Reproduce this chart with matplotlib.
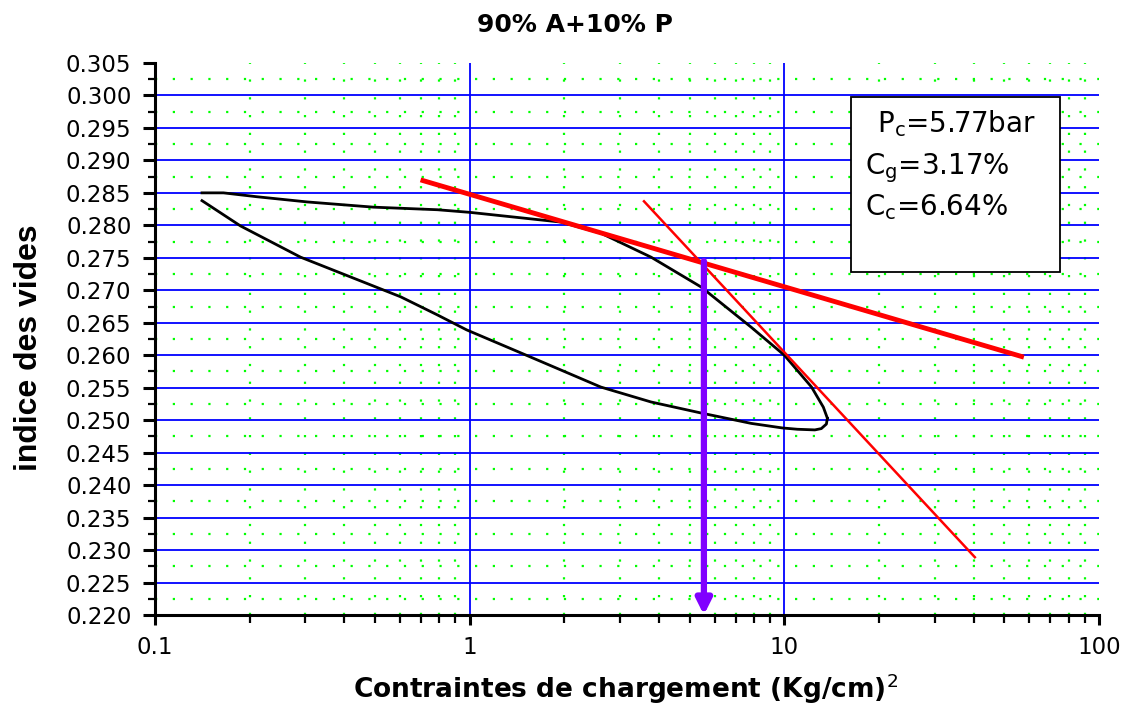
import numpy as np
import matplotlib
matplotlib.use("Agg")
import matplotlib.pyplot as plt
from matplotlib import font_manager
from matplotlib.patches import Rectangle
from matplotlib.ticker import FixedLocator, LogLocator, NullFormatter

# oedometer loop
x_load = [0.141, 0.165, 0.211, 0.305, 0.494, 0.79, 1.0, 1.95, 2.61, 3.77,
          5.44, 7.85, 10.0, 12.2, 13.3, 13.7]
e_load = [0.2850, 0.2850, 0.2844, 0.2836, 0.2828, 0.2824, 0.2820, 0.2805,
          0.2788, 0.2751, 0.2705, 0.2643, 0.2600, 0.2551, 0.2520, 0.2503]
x_unload = [13.7, 13.6, 13.1, 12.5, 11.0, 9.86, 7.85, 5.44, 3.77, 2.61, 1.53,
            0.978, 0.79, 0.603, 0.29, 0.187, 0.141]
e_unload = [0.2503, 0.2494, 0.2487, 0.2485, 0.2486, 0.2488, 0.2495, 0.2511,
            0.2528, 0.2551, 0.2599, 0.2639, 0.2662, 0.2690, 0.2751, 0.2799,
            0.2838]

# tangent lines
x_tan1 = [0.698, 57.7]
e_tan1 = [0.2870, 0.2597]
x_tan2 = [3.58, 40.3]
e_tan2 = [0.2837, 0.2289]

# preconsolidation arrow
x_pc = 5.55
e_pc = [0.2745, 0.2200]

yticks = np.round(np.arange(0.220, 0.3051, 0.005), 3)
box_lines = [r"P$_{\mathrm{c}}$=5.77bar", r"C$_{\mathrm{g}}$=3.17%", r"C$_{\mathrm{c}}$=6.64%"]

names = {f.name for f in font_manager.fontManager.ttflist}
narrow = "Liberation Sans Narrow" if "Liberation Sans Narrow" in names else "Liberation Sans"

plt.rcParams["font.family"] = "DejaVu Sans"

fig = plt.figure(figsize=(11.3, 7.06), dpi=100)
ax = fig.add_axes([0.1372, 0.1289, 0.8354, 0.7819])

ax.set_xscale("log")
ax.set_xlim(0.1, 100)
ax.set_ylim(0.220, 0.305)

ax.yaxis.set_major_locator(FixedLocator(yticks))
ax.yaxis.set_minor_locator(FixedLocator(yticks[:-1] + 0.0025))
ax.set_yticklabels([f"{v:.3f}" for v in yticks])
ax.xaxis.set_major_locator(FixedLocator([0.1, 1, 10, 100]))
ax.xaxis.set_minor_locator(LogLocator(base=10, subs=np.arange(2, 10)))
ax.xaxis.set_minor_formatter(NullFormatter())
ax.set_xticklabels(["0.1", "1", "10", "100"])

for s in ["top", "right"]:
    ax.spines[s].set_visible(False)
for s in ["left", "bottom"]:
    ax.spines[s].set_linewidth(2.2)

ax.tick_params(axis="y", which="major", length=9, width=2.2, labelsize=16.5, pad=8)
ax.tick_params(axis="y", which="minor", length=5, width=1.6)
ax.tick_params(axis="x", which="major", length=7, width=2.2, labelsize=16.5, pad=8)
ax.tick_params(axis="x", which="minor", length=6, width=1.6)

# grids
ax.grid(which="minor", color="#00ff00", linestyle=(0, (1, 7)), linewidth=1.6, zorder=0)
ax.grid(which="major", color="#0000ff", linestyle="-", linewidth=1.3, zorder=1)
ax.yaxis.get_major_ticks()[-1].gridline.set_visible(False)
ax.xaxis.get_major_ticks()[-1].gridline.set_visible(False)
ax.set_axisbelow(True)

ax.plot(x_load, e_load, color="black", lw=2, zorder=4)
ax.plot(x_unload, e_unload, color="black", lw=2, zorder=4)
ax.plot(x_tan1, e_tan1, color="red", lw=3.5, solid_capstyle="butt", zorder=5)
ax.plot(x_tan2, e_tan2, color="red", lw=1.8, zorder=5)

ax.annotate("", xy=(x_pc, e_pc[1]), xytext=(x_pc, e_pc[0]),
            arrowprops=dict(arrowstyle="-|>,head_length=0.9,head_width=0.45",
                            color="#8000ff", lw=4.5, shrinkA=0, shrinkB=0),
            zorder=6)

# parameter box
ax.add_patch(Rectangle((0.737, 0.621), 0.2217, 0.317, transform=ax.transAxes,
                       facecolor="white", edgecolor="black", lw=1.3, zorder=7))
for txt, xx, yy in zip(box_lines, [0.765, 0.752, 0.752], [0.875, 0.799, 0.7246]):
    ax.text(xx, yy, txt, transform=ax.transAxes, fontsize=20, va="baseline",
            ha="left", zorder=8)

fig.text(0.509, 0.965, "90% A+10% P", fontsize=18, fontweight="bold",
         ha="center", va="center")
fig.text(0.554, 0.024, r"Contraintes de chargement (Kg/cm)$^{2}$", fontsize=19,
         fontweight="bold", ha="center", va="center")
fig.text(0.026, 0.507, "indice des vides", family=narrow, fontsize=23,
         fontweight="bold", rotation=90, ha="center", va="center")

fig.savefig("out.png", dpi=100)
